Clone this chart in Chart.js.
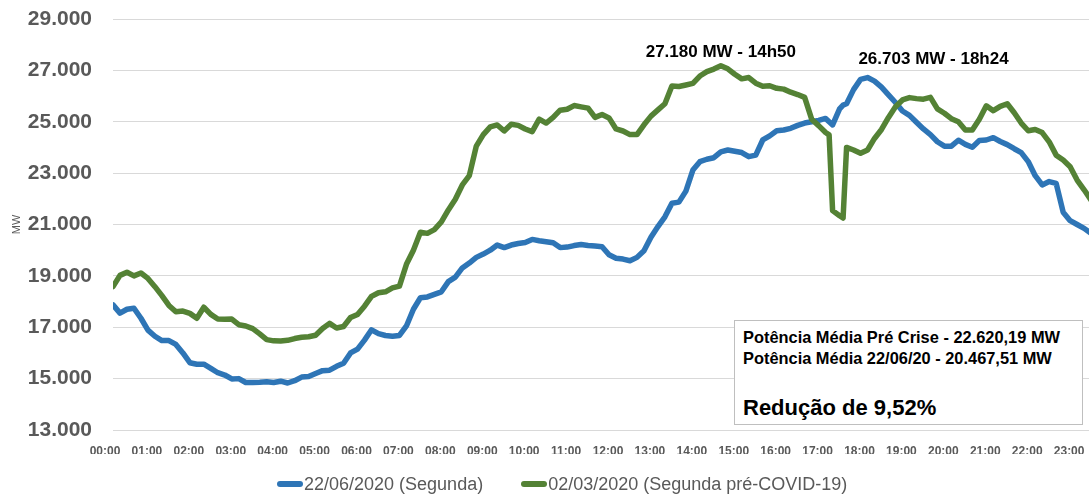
<!DOCTYPE html>
<html>
<head>
<meta charset="utf-8">
<script src="https://cdn.jsdelivr.net/npm/chart.js@4"></script>
<style>
  body { margin: 0; background: #fff; }
  #wrap { position: relative; width: 1089px; height: 495px; overflow: hidden; }
  #note {
    position: absolute; left: 734px; top: 320px; width: 347px; height: 103px;
    border: 1px solid #bfbfbf; background: #fff;
    font-family: "Liberation Sans", Arial, sans-serif; color: #000;
  }
  #note .l { position: absolute; left: 8px; font-weight: bold; font-size: 16.4px; line-height: 18px; white-space: nowrap; }
  #note .big { font-size: 22px; line-height: 25px; }
  #legend {
    position: absolute; left: 277px; top: 473px; display: flex; align-items: center;
    font-family: "Liberation Sans", Arial, sans-serif; font-size: 18px; line-height: 22px; color: #595959;
  }
  #legend .item { display: flex; align-items: center; white-space: nowrap; }
  #legend .item + .item { margin-left: 38px; }
  #legend .mark { display: inline-block; width: 26px; height: 6px; border-radius: 3px; margin-right: 1px; }
</style>
</head>
<body>
<div id="wrap">
  <canvas id="chart" width="1089" height="495"></canvas>
  <div id="note">
    <div class="l" style="top:7px">Potência Média Pré Crise - 22.620,19 MW</div>
    <div class="l" style="top:28px">Potência Média 22/06/20 - 20.467,51 MW</div>
    <div class="l big" style="top:74px">Redução de 9,52%</div>
  </div>
  <div id="legend"></div>
</div>
<script>
// minutes after 00:00
const times = [
  0, 10, 20, 30, 40, 50, 60, 70, 80, 90, 100, 110, 120, 130, 140, 150, 160, 170, 180, 190,
  200, 210, 220, 230, 240, 250, 260, 270, 280, 290, 300, 310, 320, 330, 340, 350, 360, 370, 380, 390,
  400, 410, 420, 430, 440, 450, 460, 470, 480, 490, 500, 510, 520, 530, 540, 550, 560, 570, 580, 590,
  600, 610, 620, 630, 640, 650, 660, 670, 680, 690, 700, 710, 720, 730, 740, 750, 760, 770, 780, 790,
  800, 810, 820, 830, 840, 850, 860, 870, 880, 890, 900, 910, 920, 930, 940, 950, 960, 970, 980, 990,
  1000, 1010, 1020, 1025, 1030, 1040, 1045, 1050, 1060, 1070, 1080, 1090, 1100, 1110, 1120, 1130, 1140, 1150, 1160, 1170,
  1180, 1190, 1200, 1210, 1220, 1230, 1240, 1250, 1260, 1270, 1280, 1290, 1300, 1310, 1320, 1330, 1340, 1350, 1360, 1370,
  1380, 1390, 1400
];

// 22/06/2020 (Segunda)
const mwJune = [
  17870, 17550, 17700, 17740, 17350, 16890, 16650, 16480, 16480, 16330, 16000, 15620, 15560, 15560, 15400, 15230, 15140, 14990, 15000, 14850,
  14850, 14860, 14880, 14850, 14900, 14830, 14920, 15060, 15080, 15200, 15310, 15330, 15480, 15600, 16000, 16150, 16500, 16900, 16750, 16680,
  16650, 16680, 17050, 17700, 18150, 18180, 18280, 18380, 18775, 18950, 19310, 19500, 19720, 19850, 20000, 20200, 20100, 20200, 20260, 20300,
  20420, 20370, 20330, 20290, 20100, 20120, 20180, 20220, 20180, 20160, 20135, 19820, 19690, 19655, 19590, 19720, 19980, 20500, 20920, 21300,
  21830, 21870, 22300, 23120, 23445, 23540, 23600, 23830, 23900, 23850, 23800, 23640, 23700, 24290, 24450, 24650, 24680, 24745, 24860, 24950,
  25000, 25050, 25130, 25000, 24880, 25500, 25650, 25700, 26250, 26650, 26720, 26580, 26350, 26050, 25750, 25420, 25250, 24980, 24720, 24500,
  24220, 24050, 24050, 24280, 24120, 24010, 24270, 24290, 24380, 24230, 24110, 23950, 23800, 23450, 22900, 22540, 22670, 22600, 21480, 21150,
  21000, 20850, 20650
];

// 02/03/2020 (Segunda pré-COVID-19)
const mwMarch = [
  18580, 19020, 19140, 19000, 19110, 18900, 18580, 18230, 17850, 17600, 17630, 17540, 17350, 17780, 17500, 17320, 17310, 17320, 17100, 17050,
  16945, 16740, 16520, 16470, 16465, 16490, 16560, 16610, 16630, 16690, 16950, 17150, 16970, 17030, 17380, 17500, 17820, 18200, 18345, 18380,
  18530, 18600, 19450, 20000, 20700, 20655, 20800, 21100, 21565, 21980, 22540, 22900, 24050, 24500, 24800, 24875, 24640, 24900, 24860, 24720,
  24615, 25100, 24950, 25170, 25450, 25485, 25630, 25580, 25530, 25170, 25280, 25150, 24720, 24640, 24500, 24500, 24880, 25220, 25460, 25700,
  26390, 26370, 26430, 26495, 26780, 26950, 27050, 27180, 27060, 26850, 26670, 26720, 26500, 26380, 26400, 26300, 26270, 26150, 26060, 25950,
  25100, 24850, 24580, 24490, 21540, 21340, 21250, 24000, 23900, 23770, 23900, 24350, 24700, 25170, 25585, 25850, 25940, 25900, 25880, 25950,
  25500, 25330, 25120, 25000, 24680, 24680, 25100, 25620, 25430, 25600, 25700, 25350, 24950, 24650, 24700, 24580, 24220, 23700, 23510, 23250,
  22730, 22350, 21950
];

const hourLabels = [
  '00:00', '01:00', '02:00', '03:00', '04:00', '05:00', '06:00', '07:00', '08:00', '09:00', '10:00', '11:00',
  '12:00', '13:00', '14:00', '15:00', '16:00', '17:00', '18:00', '19:00', '20:00', '21:00', '22:00', '23:00'
];

const seriesNames = ['22/06/2020 (Segunda)', '02/03/2020 (Segunda pré-COVID-19)'];

// peak notes: text, time of the peak, value of the peak
const peakTexts = ['27.180 MW - 14h50', '26.703 MW - 18h24'];
const peakTimes = [870, 1080];
const peakValues = [27180, 26703];

const FONT = '"Liberation Sans", Arial, sans-serif';
const GREY = '#595959';

const toPoints = (vals) => vals.map((v, i) => ({ x: times[i], y: v }));

const peakNotes = {
  id: 'peakNotes',
  afterDraw(chart) {
    const { ctx, scales: { x, y } } = chart;
    const shift = [[0, -13], [66, -19]];
    ctx.save();
    ctx.font = 'bold 17px ' + FONT;
    ctx.fillStyle = '#000';
    ctx.textAlign = 'center';
    ctx.textBaseline = 'middle';
    peakTexts.forEach((t, i) => {
      ctx.fillText(t, x.getPixelForValue(peakTimes[i]) + shift[i][0], y.getPixelForValue(peakValues[i]) + shift[i][1]);
    });
    ctx.restore();
  }
};

const chart = new Chart(document.getElementById('chart'), {
  type: 'line',
  data: {
    datasets: [
      {
        label: seriesNames[0],
        data: toPoints(mwJune),
        borderColor: '#2e75b6',
        backgroundColor: '#2e75b6',
        order: 1
      },
      {
        label: seriesNames[1],
        data: toPoints(mwMarch),
        borderColor: '#548235',
        backgroundColor: '#548235',
        order: 0
      }
    ]
  },
  options: {
    responsive: false,
    animation: false,
    layout: { padding: { top: 19, left: 0, right: 0, bottom: 41 } },
    elements: {
      point: { radius: 0 },
      line: { borderWidth: 5.5, tension: 0, borderCapStyle: 'round', borderJoinStyle: 'round' }
    },
    plugins: {
      tooltip: { enabled: false },
      legend: { display: false }
    },
    scales: {
      x: {
        type: 'linear',
        min: 0,
        max: 1397,
        afterFit: (scale) => { scale.height = 24; scale.paddingLeft = 0; scale.paddingRight = 0; },
        grid: { display: false },
        border: { display: false },
        ticks: {
          stepSize: 60,
          includeBounds: false,
          autoSkip: false,
          maxRotation: 0,
          padding: 6,
          labelOffset: -8,
          color: GREY,
          font: { family: FONT, size: 12, weight: 'bold' },
          callback: (v) => hourLabels[v / 60]
        }
      },
      y: {
        min: 13000,
        max: 29000,
        afterFit: (scale) => { scale.width = 113; scale.paddingTop = 0; scale.paddingBottom = 0; },
        grid: { color: '#d9d9d9', lineWidth: 1, drawTicks: false },
        border: { display: false },
        title: {
          display: true,
          text: 'MW',
          color: GREY,
          font: { family: FONT, size: 11 },
          padding: { top: 10, bottom: 0 }
        },
        ticks: {
          stepSize: 2000,
          padding: 21,
          color: GREY,
          font: { family: FONT, size: 21, weight: 'bold' },
          callback: (v) => v.toLocaleString('de-DE')
        }
      }
    }
  },
  plugins: [peakNotes]
});

// legend below the axis, built from the datasets
document.getElementById('legend').innerHTML = chart.data.datasets.map(ds =>
  `<span class="item"><span class="mark" style="background:${ds.borderColor}"></span>${ds.label}</span>`
).join('');
</script>
</body>
</html>
